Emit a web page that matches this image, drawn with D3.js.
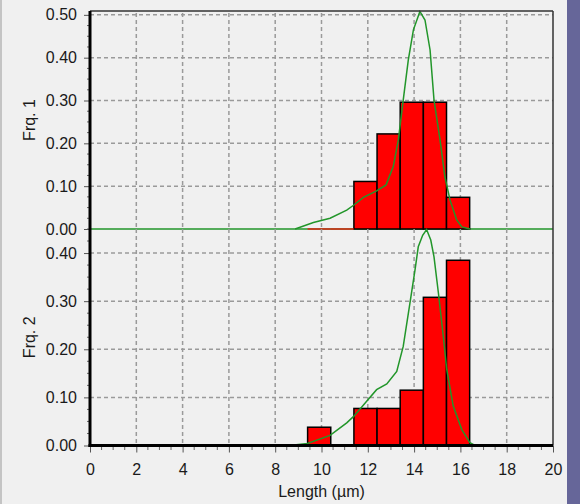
<!DOCTYPE html>
<html>

<head>
    <meta charset="utf-8">
    <style>
        body { margin: 0; background: #f0f0f0; }
        svg { display: block; }
        text { font-family: "Liberation Sans", Arial, sans-serif; fill: #1a1a1a; }
    </style>
</head>

<body>
    <div id="vizDiv"></div>

    <script src="https://d3js.org/d3.v7.min.js"></script>
    <script>
        // histogram bins (left edge, width 1) and the two frequency series
        const binStarts = [9.4, 10.4, 11.4, 12.4, 13.4, 14.4, 15.4];
        const frq1 = [0, 0, 0.111, 0.222, 0.296, 0.296, 0.074];
        const frq2 = [0.038, 0, 0.077, 0.077, 0.115, 0.308, 0.385];

        // fitted curves
        const curve1X = [8.86, 9.65, 10.37, 11.09, 11.4, 11.81, 12.38, 12.79, 13.1, 13.32, 13.53, 13.75, 13.97, 14.25, 14.47, 14.69, 14.86, 15.12, 15.33, 15.55, 15.84, 16.06, 16.41];
        const curve1Y = [0, 0.015, 0.025, 0.044, 0.056, 0.074, 0.089, 0.103, 0.146, 0.208, 0.301, 0.395, 0.465, 0.508, 0.488, 0.418, 0.301, 0.208, 0.122, 0.068, 0.021, 0.005, 0];
        const curve2X = [8.61, 9.39, 10.37, 11.09, 11.4, 11.95, 12.38, 12.82, 13.25, 13.53, 13.82, 14.04, 14.18, 14.37, 14.54, 14.72, 14.86, 15.05, 15.26, 15.41, 15.69, 16.06, 16.41, 16.63];
        const curve2Y = [0, 0.004, 0.021, 0.047, 0.061, 0.092, 0.116, 0.128, 0.154, 0.206, 0.296, 0.365, 0.413, 0.437, 0.449, 0.427, 0.392, 0.317, 0.227, 0.158, 0.082, 0.033, 0.006, 0];

        const xTicks = d3.range(0, 21, 2);

        const W = 580, H = 504;
        const red = "#ff0000", green = "#22962a", grid = "#9a9a9a";

        const svg = d3.select("#vizDiv")
            .append("svg")
            .attr("width", W)
            .attr("height", H);

        svg.append("rect").attr("width", W).attr("height", H).attr("fill", "#f0f0f0");
        svg.append("rect").attr("x", 0).attr("width", 2).attr("height", H).attr("fill", "#c4c4c4");
        svg.append("rect").attr("x", 567).attr("width", 13).attr("height", H).attr("fill", "#666699");

        const x = d3.scaleLinear().domain([0, 20]).range([90, 553]);

        const panels = [
            { values: frq1, cx: curve1X, cy: curve1Y, top: 11, bottom: 229, max: 0.509, ticks: [0, 0.1, 0.2, 0.3, 0.4, 0.5], label: "Frq. 1", first: true },
            { values: frq2, cx: curve2X, cy: curve2Y, top: 229, bottom: 445.5, max: 0.45, ticks: [0, 0.1, 0.2, 0.3, 0.4], label: "Frq. 2", first: false }
        ];

        panels.forEach(p => {
            const y = d3.scaleLinear().domain([0, p.max]).range([p.bottom, p.top]);
            const g = svg.append("g");

            // dashed grid
            g.selectAll(".hgrid")
                .data(p.ticks.filter(t => t > 0))
                .enter().append("line")
                .attr("x1", x(0)).attr("x2", x(20))
                .attr("y1", d => y(d)).attr("y2", d => y(d))
                .attr("stroke", grid).attr("stroke-width", 1.5)
                .attr("stroke-dasharray", "4,3");

            g.selectAll(".vgrid")
                .data(xTicks.filter(t => t > 0 && t < 20))
                .enter().append("line")
                .attr("x1", d => x(d)).attr("x2", d => x(d))
                .attr("y1", p.first ? p.top + 2 : p.top).attr("y2", p.bottom)
                .attr("stroke", grid).attr("stroke-width", 1.5)
                .attr("stroke-dasharray", "4,3");

            // green zero line across the top panel
            if (p.first) {
                g.append("line")
                    .attr("x1", x(0)).attr("x2", x(20))
                    .attr("y1", y(0)).attr("y2", y(0))
                    .attr("stroke", green).attr("stroke-width", 1.5);
            }

            // bars
            const bins = binStarts.map((b, i) => ({ x0: b, v: p.values[i] }));
            g.selectAll(".bar")
                .data(bins.filter(d => d.v > 0))
                .enter().append("rect")
                .attr("x", d => x(d.x0))
                .attr("width", d => x(d.x0 + 1) - x(d.x0))
                .attr("y", d => y(d.v))
                .attr("height", d => y(0) - y(d.v))
                .attr("fill", red)
                .attr("stroke", "#000").attr("stroke-width", 1.5);

            g.selectAll(".zero")
                .data(bins.filter(d => d.v === 0))
                .enter().append("line")
                .attr("x1", d => x(d.x0)).attr("x2", d => x(d.x0 + 1))
                .attr("y1", y(0)).attr("y2", y(0))
                .attr("stroke", red).attr("stroke-width", 1.2);

            // fitted curve
            const line = d3.line().x(d => x(d[0])).y(d => y(d[1]));
            g.append("path")
                .datum(p.cx.map((v, i) => [v, p.cy[i]]))
                .attr("d", line)
                .attr("fill", "none")
                .attr("stroke", green).attr("stroke-width", 1.5);

            // y axis: major + minor ticks
            const yAxis = d3.axisLeft(y)
                .tickValues(p.ticks)
                .tickFormat(d3.format(".2f"))
                .tickSize(6)
                .tickPadding(7);
            const ya = g.append("g").attr("transform", "translate(" + x(0) + ",0)").call(yAxis);
            ya.select(".domain").remove();
            ya.selectAll("line").attr("stroke", "#555");
            ya.selectAll("text").style("font-size", "16px").attr("fill", "#1a1a1a");

            const minor = d3.range(0, p.max + 0.001, 0.025).filter(v => Math.abs(v * 10 - Math.round(v * 10)) > 0.01);
            g.selectAll(".ymin")
                .data(minor)
                .enter().append("line")
                .attr("x1", x(0) - 3).attr("x2", x(0))
                .attr("y1", d => y(d)).attr("y2", d => y(d))
                .attr("stroke", "#666");

            // panel label
            g.append("text")
                .attr("transform", "translate(35," + ((p.top + p.bottom) / 2) + ") rotate(-90)")
                .attr("text-anchor", "middle")
                .style("font-size", "16px")
                .text(p.label);
        });

        // frame
        svg.append("line").attr("x1", x(0)).attr("x2", x(20)).attr("y1", 11).attr("y2", 11)
            .attr("stroke", "#333").attr("stroke-width", 1.5);
        svg.append("line").attr("x1", x(20)).attr("x2", x(20)).attr("y1", 11).attr("y2", 445.5)
            .attr("stroke", "#333").attr("stroke-width", 1.5);

        // x axis
        const xAxis = d3.axisBottom(x).tickValues(xTicks).tickSize(7).tickPadding(11);
        const xa = svg.append("g").attr("transform", "translate(0,445.5)").call(xAxis);
        xa.select(".domain").remove();
        xa.selectAll("line").attr("stroke", "#555");
        xa.selectAll("text").style("font-size", "16px").attr("fill", "#1a1a1a");

        svg.selectAll(".xmin")
            .data(d3.range(0.5, 20, 0.5).filter(v => v % 2 !== 0))
            .enter().append("line")
            .attr("x1", d => x(d)).attr("x2", d => x(d))
            .attr("y1", 445.5).attr("y2", 450)
            .attr("stroke", "#666");

        // thick axis lines
        svg.append("line").attr("x1", x(0)).attr("x2", x(0)).attr("y1", 11).attr("y2", 447)
            .attr("stroke", "#000").attr("stroke-width", 3);
        svg.append("line").attr("x1", x(0) - 1.5).attr("x2", x(20)).attr("y1", 445.5).attr("y2", 445.5)
            .attr("stroke", "#000").attr("stroke-width", 3);

        svg.append("text")
            .attr("x", (x(0) + x(20)) / 2)
            .attr("y", 497)
            .attr("text-anchor", "middle")
            .style("font-size", "16px")
            .text("Length (µm)");
    </script>
</body>

</html>
